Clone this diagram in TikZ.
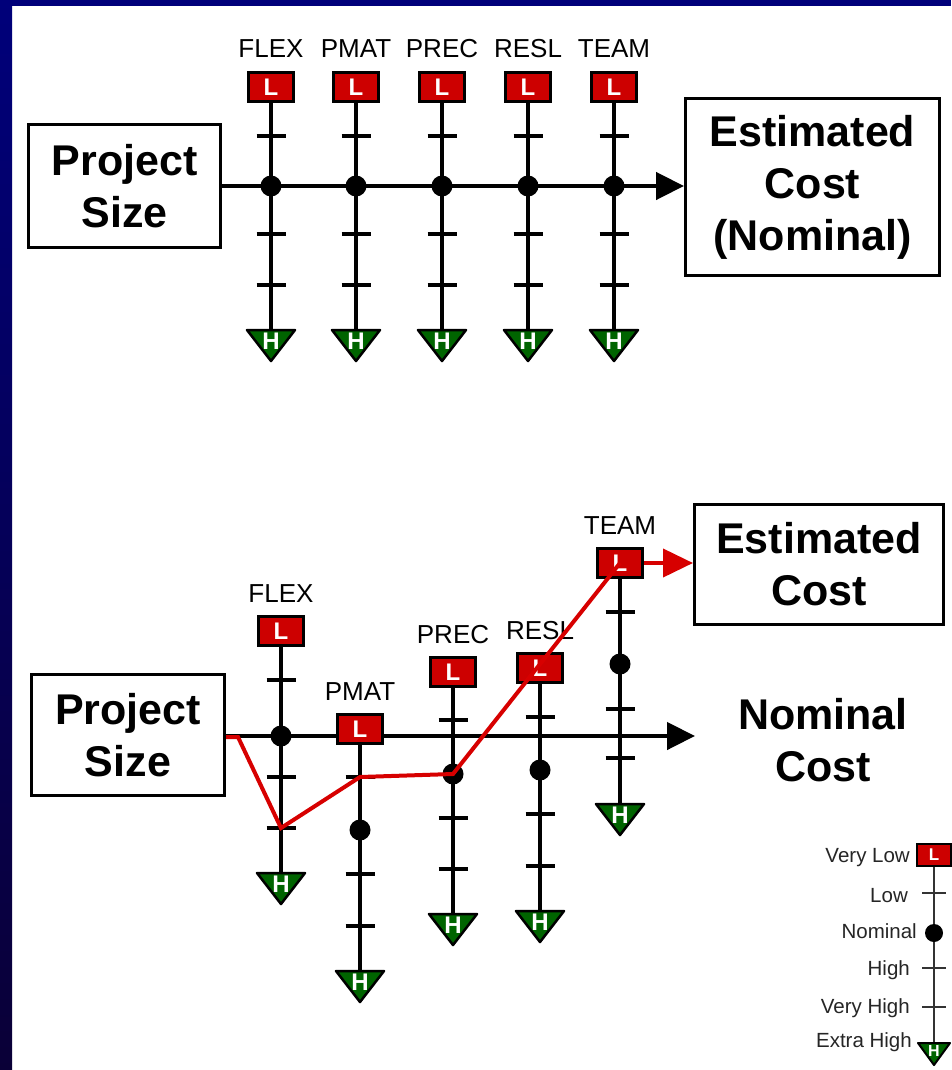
\documentclass[tikz,border=0pt]{standalone}
\usepackage{fontspec}
\setmainfont{Liberation Sans}
\usetikzlibrary{arrows.meta,calc}
\definecolor{navy}{RGB}{0,0,122}
\definecolor{midblue}{RGB}{0,0,200}
\definecolor{darkbot}{RGB}{10,0,55}
\definecolor{lred}{RGB}{205,0,0}
\definecolor{hgreen}{RGB}{0,100,0}
\definecolor{pathred}{RGB}{215,0,0}
\tikzset{
 bigbox/.style={draw, line width=3pt, font=\fontsize{43}{52}\selectfont\bfseries, align=center, inner sep=0pt},
 bigtext/.style={font=\fontsize{43}{52}\selectfont\bfseries, align=center, inner sep=0pt},
 vline/.style={line width=3.5pt},
 tickl/.style={line width=3.5pt},
 dotn/.style={circle, fill=black, minimum size=21pt, inner sep=0pt},
 lbox/.style={draw, line width=3pt, fill=lred, text=white, minimum width=45pt, minimum height=29pt, inner sep=0pt, font=\fontsize{24}{24}\selectfont\bfseries},
 htri/.style={draw, line width=2.5pt, fill=hgreen, line join=round},
 hlet/.style={text=white, font=\fontsize{24}{24}\selectfont\bfseries, inner sep=0pt},
 flab/.style={font=\fontsize{26}{26}\selectfont, anchor=base, inner sep=0pt},
 axisln/.style={line width=4.5pt, -{Triangle[length=28pt,width=27pt]}},
 redp/.style={draw=pathred, line width=4pt},
 legt/.style={font=\fontsize{20.5}{20.5}\selectfont, anchor=base east, inner sep=0pt, text=black!85},
 lgbox/.style={draw, line width=2pt, fill=lred, text=white, minimum width=34pt, minimum height=22pt, inner sep=0pt, font=\fontsize{17}{17}\selectfont\bfseries},
 lgdot/.style={circle, fill=black, minimum size=18pt, inner sep=0pt},
}
\newcommand\factor[9]{%
  \coordinate (#1-0) at (#2,#4);
  \coordinate (#1-1) at (#2,#5);
  \coordinate (#1-2) at (#2,#6);
  \coordinate (#1-3) at (#2,#7);
  \coordinate (#1-4) at (#2,#8);
  \coordinate (#1-5) at (#2,#9);
  \draw[vline] (#1-0) -- (#1-5);
  \foreach \k in {1,3,4} \draw[tickl] ($(#1-\k)+(-14.5,0)$) -- ($(#1-\k)+(14.5,0)$);
  \node[dotn] (#1-n) at (#1-2) {};
  \node[lbox] (#1-L) at (#1-0) {L};
  \draw[htri] ($(#1-5)+(-24,0)$) -- ($(#1-5)+(24,0)$) -- ($(#1-5)+(0,31)$) -- cycle;
  \node[hlet] (#1-H) at ($(#1-5)+(0,11)$) {H};
  \node[flab] (#1-lab) at ($(#1-0)+(0,-29)$) {#3};
}
\begin{document}
\begin{tikzpicture}[x=1pt,y=-1pt]
\useasboundingbox (0,0) rectangle (951,1070);
\fill[white] (0,0) rectangle (951,1070);
\shade[top color=navy, middle color=midblue, bottom color=darkbot] (0,0) rectangle (12,1070);
\fill[navy] (0,0) rectangle (951,6);

% ---------- top diagram ----------
\node[bigbox, minimum width=192pt, minimum height=122pt] (ps1) at (124.5,186) {Project\\Size};
\node[bigbox, minimum width=254pt, minimum height=176pt] (ec1) at (812.5,187) {Estimated\\Cost\\(Nominal)};
\draw[axisln] (ps1.east) -- (ps1.east -| ec1.west);
\factor{t1}{271}{FLEX}{87}{136}{186}{234}{285}{330}
\factor{t2}{356}{PMAT}{87}{136}{186}{234}{285}{330}
\factor{t3}{442}{PREC}{87}{136}{186}{234}{285}{330}
\factor{t4}{528}{RESL}{87}{136}{186}{234}{285}{330}
\factor{t5}{614}{TEAM}{87}{136}{186}{234}{285}{330}

% ---------- bottom diagram ----------
\node[bigbox, minimum width=193pt, minimum height=121pt] (ps2) at (128,735) {Project\\Size};
\node[bigbox, minimum width=249pt, minimum height=120pt] (ec2) at (819,564.5) {Estimated\\Cost};
\coordinate (axend) at (695,736);
\draw[axisln] (ps2.east |- axend) -- (axend);
\node[bigtext] (nc) at (823,740.5) {Nominal\\Cost};
\factor{b1}{281}{FLEX}{631}{680}{736}{777}{828}{873}
\factor{b2}{360}{PMAT}{729}{777}{830}{874}{926}{971}
\factor{b3}{453}{PREC}{672}{720}{774}{818}{869}{914}
\factor{b4}{540}{RESL}{668}{717}{770}{814}{866}{911}
\factor{b5}{620}{TEAM}{563}{612}{664}{709}{758}{804}
\coordinate (rs) at (238,737);
\draw[redp] (ps2.east |- rs) -- (rs) -- (b1-4) -- (b2-1) -- (b3-2) -- (b5-0);
\draw[redp, -{Triangle[length=30pt,width=28pt]}] (b5-L.east) -- (ec2.west |- b5-L.east);

% ---------- legend ----------
\coordinate (lg-0) at (934,855);
\coordinate (lg-1) at (934,893);
\coordinate (lg-2) at (934,933);
\coordinate (lg-3) at (934,968);
\coordinate (lg-4) at (934,1007);
\coordinate (lg-5) at (934,1043);
\draw[line width=2.5pt, black!80] (lg-0) -- (lg-5);
\foreach \k in {1,3,4} \draw[line width=2pt, black!80] ($(lg-\k)+(-12,0)$) -- ($(lg-\k)+(12,0)$);
\node[lgdot] (lg-n) at (lg-2) {};
\node[lgbox] (lg-L) at (lg-0) {L};
\draw[htri, line width=2pt] ($(lg-5)+(-16,0)$) -- ($(lg-5)+(16,0)$) -- ($(lg-5)+(0,22)$) -- cycle;
\node[hlet, font=\fontsize{16}{16}\selectfont\bfseries] (lg-H) at ($(lg-5)+(0,8)$) {H};
\node[legt] (lt0) at (910,862) {Very Low};
\node[legt] (lt1) at (908,902) {Low};
\node[legt] (lt2) at (917,938) {Nominal};
\node[legt] (lt3) at (910,975) {High};
\node[legt] (lt4) at (910,1013) {Very High};
\node[legt] (lt5) at (912,1047) {Extra High};
\end{tikzpicture}
\end{document}
